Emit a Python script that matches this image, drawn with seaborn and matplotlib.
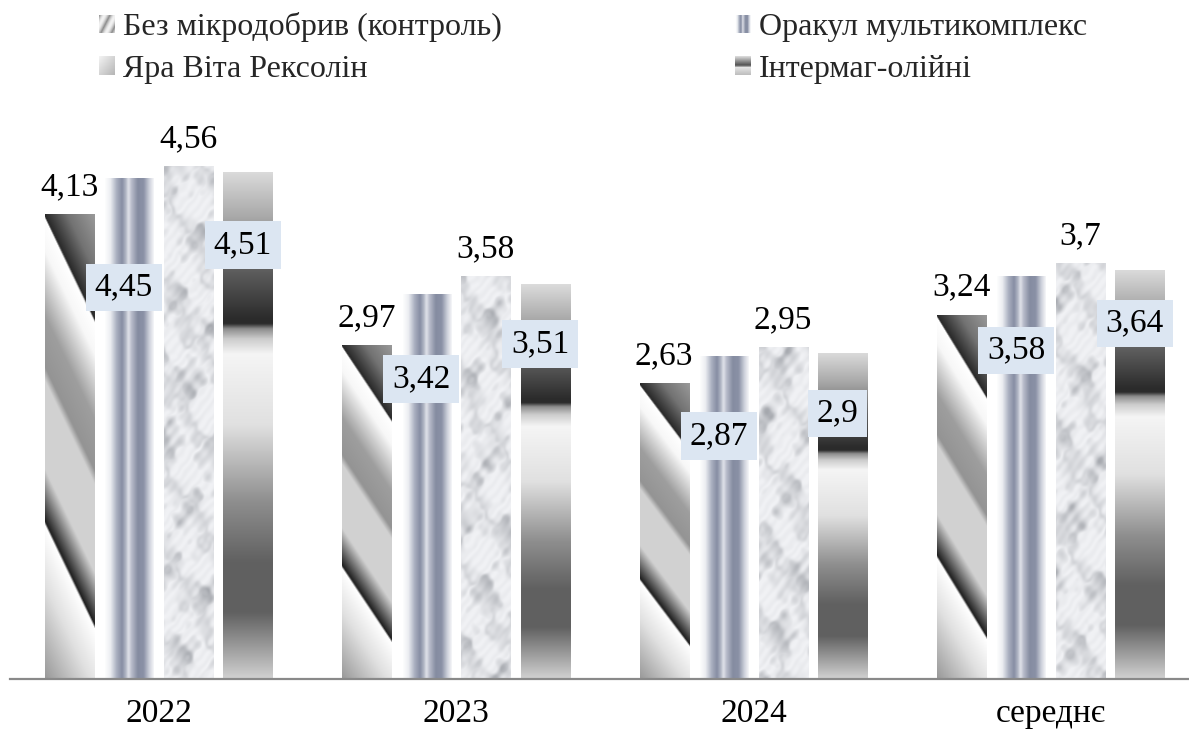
import numpy as np
import pandas as pd
import matplotlib
matplotlib.use("Agg")
import matplotlib.pyplot as plt
import seaborn as sns
from matplotlib.patches import Patch
from matplotlib.colors import to_rgb

# ---------------- data ----------------
categories = ["2022", "2023", "2024", "середнє"]
series = ["Без мікродобрив (контроль)", "Оракул мультикомплекс",
          "Яра Віта Рексолін", "Інтермаг-олійні"]
control = [4.13, 2.97, 2.63, 3.24]
orakul = [4.45, 3.42, 2.87, 3.58]
yara = [4.56, 3.58, 2.95, 3.70]
intermag = [4.51, 3.51, 2.90, 3.64]
values = [control, orakul, yara, intermag]

# vertical positions (data units) of the boxed value labels (series 2 and 4)
boxed_label_y = {1: [3.48, 2.67, 2.16, 2.92], 3: [3.86, 2.98, 2.36, 3.16]}

# ---------------- style ----------------
sns.set_theme(style="white")
plt.rcParams["font.family"] = ["Liberation Serif", "DejaVu Serif"]
FS = 24
FS_LEG = 23

W_PX, H_PX = 1189, 734
fig = plt.figure(figsize=(W_PX / 100, H_PX / 100), dpi=100)
ax = fig.add_axes([10 / W_PX, 55 / H_PX, 1179 / W_PX, 562.5 / H_PX])

df = pd.DataFrame({
    "year": np.repeat([categories], len(series), axis=0).ravel(),
    "series": np.repeat(series, len(categories)),
    "value": np.concatenate(values),
})

sns.barplot(data=df, x="year", y="value", hue="series", order=categories,
            hue_order=series, width=0.8, gap=0.175, legend=False, ax=ax,
            palette=["#bbbbbb"] * 4, saturation=1, edgecolor="none",
            linewidth=0, errorbar=None)

YMAX = 5.0
XMIN, XMAX = -0.5, 3.465
PX_PER_Y = 562.5 / YMAX


# ---------------- textures ----------------
def gray_img(g):
    return np.dstack([g, g, g])


def tex_control(nr, nc):
    u = np.linspace(0, 1, nc)
    v = np.linspace(0, 1, nr)
    U, V = np.meshgrid(u, v)
    p = V - 0.22 * U
    sp = [-0.25, -0.1, 0.004, 0.012, 0.08, 0.22, 0.33, 0.36, 0.55, 0.662, 0.672, 0.8, 1.0]
    sg = [0.64, 0.45, 0.16, 1.0, 0.97, 0.62, 0.58, 0.82, 0.82, 0.12, 1.0, 0.88, 0.6]
    return gray_img(np.interp(p, sp, sg))


def tex_orakul(nr, nc):
    u = np.linspace(0, 1, nc)
    su = [0, 0.12, 0.25, 0.36, 0.44, 0.49, 0.55, 0.68, 0.8, 0.92, 1.0]
    cols = ["#ffffff", "#eceef2", "#a9afbf", "#868da3", "#b4b9c7", "#e2e4eb",
            "#b9bdcb", "#858ca1", "#8a91a6", "#cfd2dc", "#f2f3f6"]
    rgb = np.array([to_rgb(c) for c in cols])
    row = np.stack([np.interp(u, su, rgb[:, k]) for k in range(3)], axis=-1)
    return np.repeat(row[None, :, :], nr, axis=0)


def tex_yara(nr, nc, phase):
    y, x = np.mgrid[0:nr, 0:nc].astype(float)
    t = (np.sin(0.13 * x + 0.05 * y + phase)
         + 0.8 * np.sin(0.04 * x - 0.09 * y + 2.0 * phase + 0.7)
         + 0.6 * np.sin(0.23 * x + 0.17 * y + 1.0)
         + 0.45 * np.sin(-0.31 * x + 0.21 * y + phase)
         + 0.3 * np.sin(0.45 * x + 0.39 * y + 0.3)
         + 0.25 * np.sin(0.2 * x - 0.33 * y + 2.2))
    streak = np.sin(0.07 * y - 0.12 * x + 0.9 * t + 0.5 * phase)
    d = (0.55 * np.clip((t - 0.4) / 2.2, 0, 1)
         + 0.3 * (0.5 + 0.5 * streak) ** 3
         + 0.08 * (0.5 + 0.5 * np.sin(0.6 * x + 0.5 * y + t)))
    d = np.clip(d, 0, 1)
    base = np.array(to_rgb("#f1f2f5"))
    dark = np.array(to_rgb("#9fa2a8"))
    return base[None, None, :] * (1 - d[..., None]) + dark[None, None, :] * d[..., None]


def tex_intermag(nr, nc):
    v = np.linspace(0, 1, nr)
    sv = [0, 0.09, 0.19, 0.29, 0.30, 0.31, 0.33, 0.36, 0.5, 0.65, 0.77, 0.87, 1.0]
    sg = [0.86, 0.66, 0.38, 0.17, 0.17, 0.55, 0.8, 0.96, 0.88, 0.56, 0.38, 0.38, 0.82]
    col = np.interp(v, sv, sg)
    return gray_img(np.repeat(col[:, None], nc, axis=1))


def texture(i, nr, nc, phase=0.0):
    if i == 0:
        return tex_control(nr, nc)
    if i == 1:
        return tex_orakul(nr, nc)
    if i == 2:
        return tex_yara(nr, nc, phase)
    return tex_intermag(nr, nc)


def legend_texture(i, n):
    if i == 0:
        y, x = np.mgrid[0:n, 0:n].astype(float)
        p = (x + 0.6 * y) / n
        g = 0.55 + 0.4 * np.abs(np.sin(np.pi * 1.5 * p))
        return gray_img(g)
    if i == 1:
        return tex_orakul(n, n)
    if i == 2:
        y, x = np.mgrid[0:n, 0:n].astype(float)
        g = 0.95 - 0.25 * (x + y) / (2 * n)
        return gray_img(g)
    v = np.linspace(0, 1, n)
    g = np.interp(v, [0, 0.35, 0.5, 0.6, 1.0], [0.85, 0.45, 0.3, 0.9, 0.75])
    return gray_img(np.repeat(g[:, None], n, axis=1))


# ---------------- draw textured bars ----------------
for i, cont in enumerate(ax.containers):
    for j, patch in enumerate(cont.patches):
        x0, w, h = patch.get_x(), patch.get_width(), patch.get_height()
        nr = max(int(h * PX_PER_Y), 2)
        nc = 49
        img = texture(i, nr, nc, phase=1.7 * j)
        im = ax.imshow(img, extent=(x0, x0 + w, 0, h), origin="upper",
                       aspect="auto", interpolation="bilinear",
                       zorder=patch.get_zorder() + 0.1)
        im.set_clip_path(patch)

# ---------------- value labels ----------------
dx_box = -5 / 297.3
for i, cont in enumerate(ax.containers):
    for j, patch in enumerate(cont.patches):
        xc = patch.get_x() + patch.get_width() / 2
        txt = f"{values[i][j]:g}".replace(".", ",")
        if i in boxed_label_y:
            ax.text(xc + dx_box, boxed_label_y[i][j], txt, ha="center", va="center",
                    fontsize=FS, color="#000000", zorder=10,
                    bbox=dict(boxstyle="square,pad=0.26", fc="#dce6f2", ec="none"))
        else:
            ax.annotate(txt, (xc, values[i][j]), xytext=(0, 13.5),
                        textcoords="offset points", ha="center", va="baseline",
                        fontsize=FS, color="#000000", zorder=10)

ax.set_xlim(XMIN, XMAX)
ax.set_ylim(0, YMAX)
ax.set_yticks([])
ax.set_xlabel("")
ax.set_ylabel("")
ax.tick_params(axis="x", length=0, pad=14, labelsize=FS, labelcolor="#000000")
for s in ["left", "top", "right"]:
    ax.spines[s].set_visible(False)
ax.spines["bottom"].set_color("#898989")
ax.spines["bottom"].set_linewidth(1.6)
ax.set_facecolor("white")
fig.patch.set_facecolor("white")

# ---------------- legend ----------------
order = [0, 2, 1, 3]
handles = [Patch(facecolor="none", edgecolor="none") for _ in order]
leg = fig.legend(handles, [series[k] for k in order], ncol=2, loc="upper left",
                 bbox_to_anchor=(99 / W_PX, 1 - 12 / H_PX), frameon=False,
                 fontsize=FS_LEG, handlelength=0.5, handleheight=0.5,
                 handletextpad=0.25, columnspacing=7.3, labelspacing=0.4,
                 borderpad=0, borderaxespad=0)

fig.canvas.draw()
inv = fig.transFigure.inverted()
for hnd, k in zip(leg.legend_handles, order):
    bb = hnd.get_window_extent(fig.canvas.get_renderer())
    (fx0, fy0), (fx1, fy1) = inv.transform([[bb.x0, bb.y0], [bb.x1, bb.y1]])
    lax = fig.add_axes([fx0, fy0, fx1 - fx0, fy1 - fy0])
    lax.imshow(legend_texture(k, 16), aspect="auto", interpolation="bilinear")
    lax.set_axis_off()

fig.savefig("out.png", dpi=100, facecolor="white")
